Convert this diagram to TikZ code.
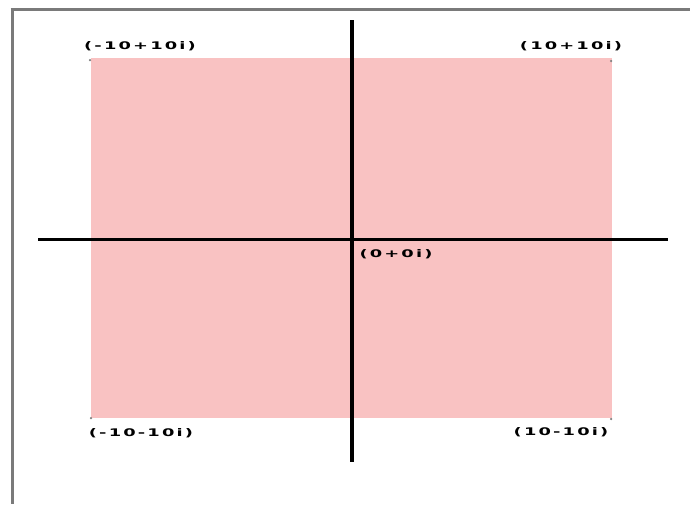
\documentclass[tikz,border=0pt]{standalone}
\usepackage{fontspec}
\usepackage{graphicx}
\setmainfont{DejaVu Sans}
\definecolor{framegray}{HTML}{7A7A7A}
\definecolor{regionpink}{HTML}{F9C2C2}
\newcommand{\cplxlbl}[1]{\scalebox{1.7}[1]{\addfontfeature{LetterSpace=12}\bfseries #1}}
\tikzset{
  frameline/.style={draw=framegray, line width=3pt},
  axisline/.style={draw=black, line width=3.5pt},
  cornerlbl/.style={inner sep=0pt, font=\fontsize{10.5}{12}\selectfont, text=black},
  cornerdot/.style={fill=gray, draw=none, circle, inner sep=0pt, minimum size=2.5pt}
}
\begin{document}
\begin{tikzpicture}[x=1pt, y=-1pt]
\useasboundingbox (0,0) rectangle (690,504);
\fill[white] (0,0) rectangle (690,504);
% frame (top and left only)
\draw[frameline] (10.5,9.5) -- (690,9.5);
\draw[frameline] (12,8) -- (12,504);
% region
\fill[regionpink] (91,58) rectangle (612,418);
% corner dots
\node[cornerdot] (dtl) at (90,60) {};
\node[cornerdot] (dtr) at (611,61) {};
\node[cornerdot] (dbl) at (91,418) {};
\node[cornerdot] (dbr) at (611,419) {};
% axes
\coordinate (xl) at (38,239);
\coordinate (xr) at (668,239);
\coordinate (yt) at (352,20);
\coordinate (yb) at (352,462);
\draw[axisline, line width=3pt] (xl) -- (xr);
\draw[axisline] (yt) -- (yb);
% labels
\node[cornerlbl] (ltl) at (140,46) {\cplxlbl{(-10+10i)}};
\node[cornerlbl] (ltr) at (571,46) {\cplxlbl{(10+10i)}};
\node[cornerlbl] (lc) at (396,254) {\cplxlbl{(0+0i)}};
\node[cornerlbl] (lbl) at (141,433) {\cplxlbl{(-10-10i)}};
\node[cornerlbl] (lbr) at (561,432) {\cplxlbl{(10-10i)}};
\end{tikzpicture}
\end{document}
